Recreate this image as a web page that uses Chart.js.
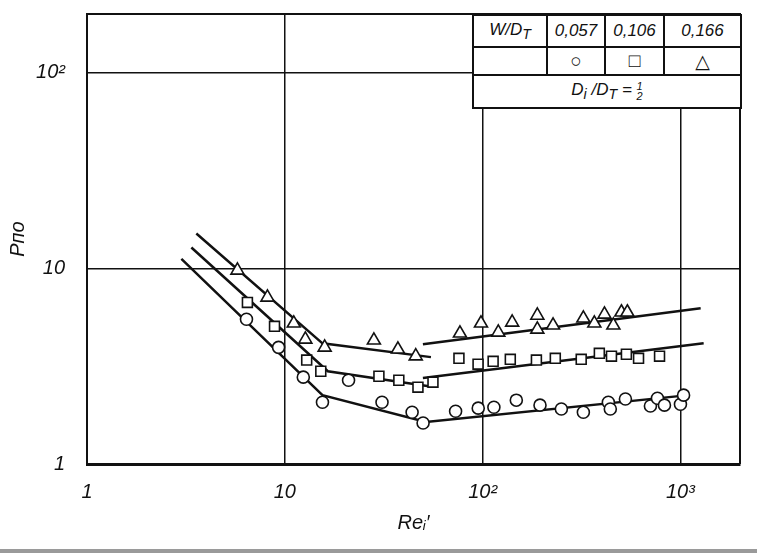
<!DOCTYPE html>
<html>
<head>
<meta charset="utf-8">
<script src="https://cdn.jsdelivr.net/npm/chart.js@4.4.1/dist/chart.umd.min.js"></script>
<style>
  body { margin: 0; background: #fff; }
  #wrap { position: relative; width: 757px; height: 553px; overflow: hidden; }
  #foot { position: absolute; left: 0; top: 549px; width: 757px; height: 4px; background: #9a9a9a; }
  #legendTable {
    position: absolute; left: 472px; top: 14px; width: 270px;
    border-collapse: collapse; background: #fff;
    font-family: "Liberation Sans", "DejaVu Sans", sans-serif; font-style: italic;
    font-size: 17px; color: #111;
  }
  #legendTable td { border: 2px solid #111; text-align: center; padding: 0; }
  #legendTable tr.r1 td { height: 30px; }
  #legendTable tr.r2 td { height: 26px; font-style: normal; font-size: 19px; }
  #legendTable tr.r3 td { height: 31px; }
  .frac { display: inline-block; vertical-align: middle; font-size: 11px; line-height: 10px; text-align: center; }
  .frac span { display: block; }
</style>
</head>
<body>
<div id="wrap">
  <canvas id="chart" width="757" height="553"></canvas>
  <table id="legendTable">
    <tr class="r1"><td style="width:72px">W/D<sub>T</sub></td><td style="width:56px">0,057</td><td style="width:57px">0,106</td><td>0,166</td></tr>
    <tr class="r2"><td></td><td>○</td><td>□</td><td>△</td></tr>
    <tr class="r3"><td colspan="4">D<sub>i</sub> /D<sub>T</sub> = <span class="frac"><span>1</span><span>2</span></span></td></tr>
  </table>
  <div id="foot"></div>
</div>
<script>
// W/D_T = 0,057 (circles)
const reCircle = [6.4, 9.3, 12.4, 15.5, 21, 31, 44, 50, 73, 95, 114, 148, 195, 250, 323, 432, 442, 527, 705, 765, 830, 1000, 1037];
const pCircle  = [5.5, 3.95, 2.78, 2.07, 2.68, 2.07, 1.84, 1.62, 1.86, 1.93, 1.95, 2.12, 2.0, 1.91, 1.84, 2.07, 1.91, 2.15, 1.98, 2.17, 2.0, 2.02, 2.25];

// W/D_T = 0,106 (squares)
const reSquare = [6.47, 8.87, 12.9, 15.2, 29.9, 37.7, 47.1, 56.1, 75.9, 94.8, 113, 138, 187, 233, 315, 389, 448, 533, 614, 784];
const pSquare  = [6.7, 5.06, 3.4, 2.98, 2.81, 2.68, 2.47, 2.62, 3.47, 3.24, 3.35, 3.43, 3.40, 3.47, 3.43, 3.68, 3.56, 3.64, 3.47, 3.56];

// W/D_T = 0,166 (triangles)
const reTriangle = [5.76, 8.17, 11.1, 12.7, 15.9, 28.2, 37.3, 45.9, 76.8, 98.1, 120, 141, 189, 189, 227, 323, 367, 413, 458, 503, 539];
const pTriangle  = [9.77, 7.11, 5.24, 4.34, 3.95, 4.29, 3.86, 3.56, 4.66, 5.24, 4.71, 5.30, 5.75, 4.88, 5.12, 5.56, 5.24, 5.82, 5.12, 5.97, 5.97];

// fitted lines
const lineCircleX = [3.0, 15.5, 51.7, 1100];
const lineCircleY = [11.2, 2.25, 1.64, 2.25];
const lineSquareAX = [3.37, 16.5, 53.5];
const lineSquareAY = [12.8, 2.98, 2.5];
const lineSquareBX = [49.9, 1310];
const lineSquareBY = [2.75, 4.14];
const lineTriAX = [3.57, 15.5, 54.8];
const lineTriAY = [15.1, 4.14, 3.52];
const lineTriBX = [49.9, 1265];
const lineTriBY = [4.1, 6.25];

const xTicks = [1, 10, 100, 1000];
const xTickLabels = ['1', '10', '10²', '10³'];
const yTicks = [1, 10, 100];
const yTickLabels = ['1', '10', '10²'];

const pts = (xs, ys) => xs.map((x, i) => ({ x: x, y: ys[i] }));

function markers(xs, ys, style, r) {
    return {
        data: pts(xs, ys),
        showLine: false,
        pointStyle: style,
        pointRadius: r,
        pointBackgroundColor: '#fff',
        pointBorderColor: '#111',
        pointBorderWidth: 1.6,
    };
}

function fitLine(xs, ys) {
    return {
        data: pts(xs, ys),
        showLine: true,
        borderColor: '#111',
        borderWidth: 2.5,
        pointRadius: 0,
        tension: 0,
    };
}

// thin frame on top and right of the plot
const framePlugin = {
    id: 'frame',
    afterDraw(chart) {
        const a = chart.chartArea;
        const ctx = chart.ctx;
        ctx.save();
        ctx.strokeStyle = '#111';
        ctx.lineWidth = 2;
        ctx.beginPath();
        ctx.moveTo(a.left, a.top);
        ctx.lineTo(a.right, a.top);
        ctx.lineTo(a.right, a.bottom);
        ctx.stroke();
        ctx.restore();
    }
};

const tickFont = { family: '"Liberation Sans", sans-serif', style: 'italic', size: 20 };

new Chart(document.getElementById('chart').getContext('2d'), {
    type: 'scatter',
    data: {
        datasets: [
            markers(reCircle, pCircle, 'circle', 6),
            markers(reSquare, pSquare, 'rect', 7),
            markers(reTriangle, pTriangle, 'triangle', 7.5),
            fitLine(lineCircleX, lineCircleY),
            fitLine(lineSquareAX, lineSquareAY),
            fitLine(lineSquareBX, lineSquareBY),
            fitLine(lineTriAX, lineTriAY),
            fitLine(lineTriBX, lineTriBY),
        ]
    },
    options: {
        responsive: false,
        animation: false,
        layout: { padding: { top: 14, right: 17, left: 0, bottom: 0 } },
        plugins: { legend: { display: false }, tooltip: { enabled: false } },
        scales: {
            x: {
                type: 'logarithmic',
                min: 1,
                max: 2000,
                afterBuildTicks: s => { s.ticks = xTicks.map(v => ({ value: v })); },
                afterFit: s => { s.height = 89; },
                ticks: {
                    color: '#111',
                    font: tickFont,
                    padding: 16,
                    maxRotation: 0,
                    autoSkip: false,
                    callback: function (value) {
                        const i = xTicks.indexOf(value);
                        return i >= 0 ? xTickLabels[i] : '';
                    },
                },
                grid: { color: '#111', lineWidth: 1.5, drawTicks: false },
                border: { display: true, color: '#111', width: 3 },
                title: {
                    display: true,
                    text: 'Reᵢ′',
                    color: '#111',
                    font: { family: '"Liberation Sans", sans-serif', style: 'italic', size: 20 },
                    padding: { top: 0, bottom: 18 },
                },
            },
            y: {
                type: 'logarithmic',
                min: 1,
                max: 200,
                afterBuildTicks: s => { s.ticks = yTicks.map(v => ({ value: v })); },
                afterFit: s => { s.width = 87; s.paddingTop = 0; s.paddingBottom = 0; },
                ticks: {
                    color: '#111',
                    font: tickFont,
                    padding: 22,
                    autoSkip: false,
                    callback: function (value) {
                        const i = yTicks.indexOf(value);
                        return i >= 0 ? yTickLabels[i] : '';
                    },
                },
                grid: { color: '#111', lineWidth: 1.5, drawTicks: false },
                border: { display: true, color: '#111', width: 2 },
                title: {
                    display: true,
                    text: 'Pпо',
                    color: '#111',
                    font: { family: '"Liberation Sans", sans-serif', style: 'italic', size: 20 },
                    padding: { top: 6, bottom: 0 },
                },
            },
        },
    },
    plugins: [framePlugin],
});
</script>
</body>
</html>
